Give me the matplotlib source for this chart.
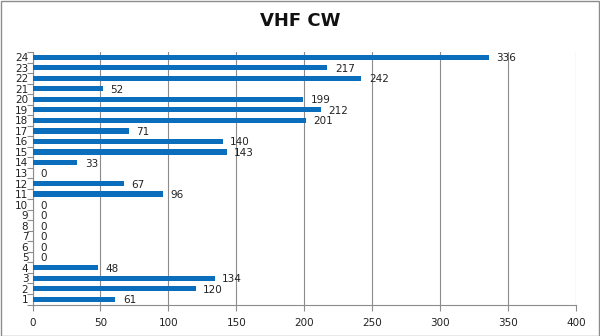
import matplotlib
matplotlib.use("Agg")
import matplotlib.pyplot as plt
import numpy as np
from matplotlib.patches import Rectangle

categories = [str(i) for i in range(1, 25)]
values = [61, 120, 134, 48, 0, 0, 0, 0, 0, 0, 96, 67, 0, 33,
          143, 140, 71, 201, 212, 199, 52, 242, 217, 336]
x_ticks = [0, 50, 100, 150, 200, 250, 300, 350, 400]

W, H = 600, 336
fig = plt.figure(figsize=(W / 100, H / 100), dpi=100)
ax = fig.add_axes([32.5 / W, 1 - 304.5 / H, (576 - 32.5) / W, (304.5 - 52) / H])

pos = np.arange(len(categories))
bar_color = "#0A6EBD"
grid_color = "#8C8C8C"
ax.barh(pos, values, height=0.5, color=bar_color, zorder=3)

for p, v in zip(pos, values):
    ax.text(v + 5.5, p - 0.1, str(v), va="center", ha="left",
            fontsize=7.5, color="#222222", zorder=4)

ax.set_xlim(0, 400)
ax.set_ylim(-0.5, len(categories) - 0.5)
ax.set_xticks(x_ticks)
ax.set_xticklabels([str(t) for t in x_ticks], fontsize=7.5, color="#222222")
ax.set_yticks(pos)
ax.set_yticklabels(categories, fontsize=7.5, color="#222222")
ax.tick_params(axis="y", length=0, pad=3)
ax.set_yticks(np.arange(-0.5, len(categories)), minor=True)
ax.tick_params(axis="y", which="minor", length=4, color=grid_color, width=0.8)
ax.tick_params(axis="x", length=4, color=grid_color, width=0.8, pad=6)

ax.grid(axis="x", color=grid_color, linewidth=0.8, zorder=0)
for s in ("top", "right"):
    ax.spines[s].set_visible(False)
for s in ("left", "bottom"):
    ax.spines[s].set_color(grid_color)
    ax.spines[s].set_linewidth(0.8)

fig.text(0.5, 1 - 21 / H, "VHF CW", ha="center", va="center",
         fontsize=13, fontweight="bold", color="#111111")

fig.patches.append(Rectangle((0.5 / W, 0.5 / H), 1 - 1.5 / W, 1 - 1.5 / H,
                             transform=fig.transFigure, fill=False,
                             edgecolor="#8C8C8C", linewidth=1))

fig.savefig("out.png", dpi=100)
